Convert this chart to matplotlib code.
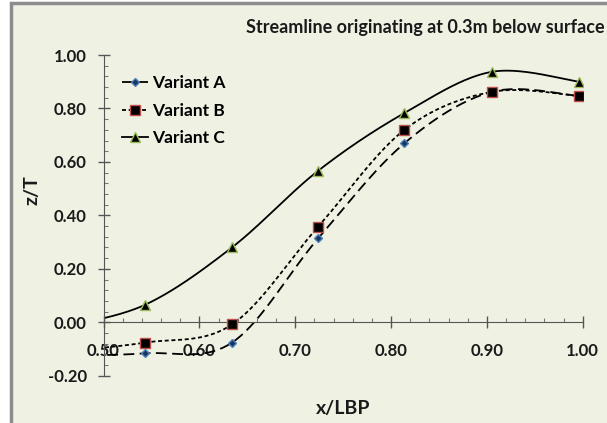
import numpy as np
import matplotlib
matplotlib.use("Agg")
import matplotlib.pyplot as plt
from matplotlib.patches import Rectangle
from matplotlib.ticker import MultipleLocator, FormatStrFormatter

# ---- data ----
x_lbp = [0.453, 0.543, 0.634, 0.724, 0.814, 0.905, 0.996]
variant_a = [-0.125, -0.116, -0.076, 0.314, 0.67, 0.862, 0.847]
variant_b = [-0.11, -0.076, -0.008, 0.358, 0.72, 0.862, 0.847]
variant_c = [-0.02, 0.065, 0.28, 0.567, 0.783, 0.937, 0.90]
series_names = ["Variant A", "Variant B", "Variant C"]
title_text = "Streamline originating at 0.3m below surface"
x_label = "x/LBP"
y_label = "z/T"

FONT = ["Lato", "DejaVu Sans"]
plt.rcParams["font.family"] = FONT


def smooth(xs, ys, n=40):
    """Excel-style smoothed line (Catmull-Rom Bezier)."""
    P = np.column_stack([xs, ys]).astype(float)
    out = []
    m = len(P)
    for i in range(m - 1):
        p0 = P[i - 1] if i > 0 else P[i]
        p1 = P[i]
        p2 = P[i + 1]
        p3 = P[i + 2] if i + 2 < m else P[i + 1]
        c1 = p1 + (p2 - p0) / 6.0
        c2 = p2 - (p3 - p1) / 6.0
        t = np.linspace(0, 1, n)[:, None]
        seg = ((1 - t) ** 3) * p1 + 3 * ((1 - t) ** 2) * t * c1 + 3 * (1 - t) * t ** 2 * c2 + t ** 3 * p2
        out.append(seg if i == 0 else seg[1:])
    s = np.vstack(out)
    return s[:, 0], s[:, 1]


fig = plt.figure(figsize=(6.07, 4.23), dpi=100)
fig.patch.set_facecolor("white")
bg = "#EFF2E3"
fig.patches.append(Rectangle((10.5 / 607, -0.01), 1.0, 1 - 3.5 / 423 + 0.01,
                             transform=fig.transFigure, facecolor=bg,
                             edgecolor="#8C8C8C", linewidth=2.5, zorder=-10))

ax = fig.add_axes([103.5 / 607, 1 - 375.8 / 423, (582.7 - 103.5) / 607, (375.8 - 55) / 423])
ax.set_facecolor("none")
ax.set_xlim(0.5, 1.0)
ax.set_ylim(-0.2, 1.0)

styles = [
    dict(ls=(0, (6, 3)), marker="D", ms=4.5, mfc="#17375E", mec="#4F81BD"),
    dict(ls=(0, (2.2, 1.5)), marker="s", ms=7, mfc="black", mec="#C0504D"),
    dict(ls="-", marker="^", ms=6.5, mfc="black", mec="#9BBB59"),
]
handles = []
for ys, name, st in zip([variant_a, variant_b, variant_c], series_names, styles):
    sx, sy = smooth(x_lbp, ys)
    ax.plot(sx, sy, color="black", lw=1.3, ls=st["ls"], zorder=2)
    ax.plot(x_lbp, ys, ls="none", marker=st["marker"], ms=st["ms"],
            mfc=st["mfc"], mec=st["mec"], mew=1.0, zorder=3)
    h, = ax.plot([], [], color="black", lw=1.3, ls=st["ls"], marker=st["marker"],
                 ms=st["ms"], mfc=st["mfc"], mec=st["mec"], mew=1.0)
    handles.append(h)

for s in ["top", "right"]:
    ax.spines[s].set_visible(False)
ax.spines["bottom"].set_position(("data", 0))
ax.spines["left"].set_color("#555555")
ax.spines["bottom"].set_color("#555555")

ax.xaxis.set_major_locator(MultipleLocator(0.1))
ax.xaxis.set_minor_locator(MultipleLocator(0.02))
ax.yaxis.set_major_locator(MultipleLocator(0.2))
ax.yaxis.set_minor_locator(MultipleLocator(0.04))
ax.xaxis.set_major_formatter(FormatStrFormatter("%.2f"))
ax.yaxis.set_major_formatter(FormatStrFormatter("%.2f"))
ax.tick_params(which="major", direction="inout", length=8, width=1, color="#555555",
               labelsize=12)
ax.tick_params(which="minor", direction="in", length=3, width=0.8, color="#777777")
ax.tick_params(axis="x", which="major", pad=11)
ax.tick_params(axis="y", which="major", pad=8)
for lab in ax.get_xticklabels() + ax.get_yticklabels():
    lab.set_fontweight("bold")
    lab.set_color("#1a1a1a")

fig.text(605 / 607, 1 - 28 / 423, title_text, ha="right", va="center",
         fontsize=13, fontweight="bold", color="#1a1a1a")
fig.text(32 / 607, 1 - 190 / 423, y_label, ha="center", va="center", rotation=90,
         fontsize=14, fontweight="bold", color="#1a1a1a")
fig.text(343 / 607, 1 - 408 / 423, x_label, ha="center", va="center",
         fontsize=14, fontweight="bold", color="#1a1a1a")

leg = ax.legend(handles, series_names, loc="upper left", bbox_to_anchor=(0.005, 0.985),
                frameon=False, handlelength=1.5, handletextpad=0.25, labelspacing=0.65,
                prop=dict(family=FONT, weight="bold", size=12.5))

fig.savefig("out.png", dpi=100, facecolor=fig.get_facecolor())
